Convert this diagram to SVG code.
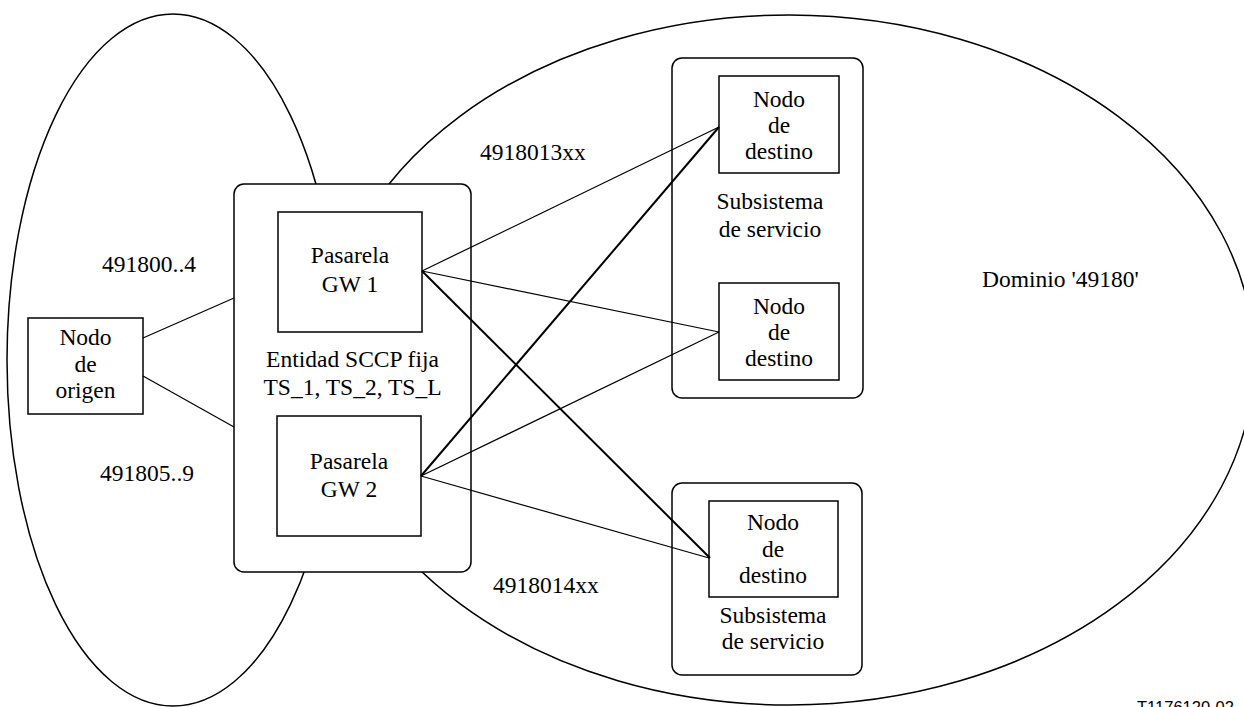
<svg xmlns="http://www.w3.org/2000/svg" width="1244" height="707" viewBox="0 0 1244 707">
<style>
.t{font-family:'Liberation Serif','Times New Roman',Tinos,'DejaVu Serif','Noto Serif',serif;font-size:23.5px;fill:#000;text-anchor:middle}
.ts{font-family:'Liberation Serif','Times New Roman',Tinos,'DejaVu Serif','Noto Serif',serif;font-size:23.5px;fill:#000}
.sh{fill:none;stroke:#000;stroke-width:1.5}
.box{fill:#fff;stroke:#000;stroke-width:1.5}
.thin{stroke:#000;stroke-width:1.2;fill:none}
.thick{stroke:#000;stroke-width:2;fill:none}
</style>
<rect width="1244" height="707" fill="#fff"/>
<g id="domains">
<ellipse id="left-domain" class="sh" cx="173" cy="360" rx="166" ry="346"/>
<ellipse id="right-domain" class="sh" cx="789" cy="360" rx="465" ry="345"/>
</g>
<g id="entity">
<rect class="box" x="234" y="184" width="237" height="388" rx="10"/>
<text class="t" x="352.5" y="367">Entidad SCCP fija</text>
<text class="t" x="352.5" y="395">TS_1, TS_2, TS_L</text>
</g>
<g id="gw1">
<rect class="box" x="278" y="212" width="144" height="120"/>
<text class="t" x="350" y="263">Pasarela</text>
<text class="t" x="350" y="292">GW 1</text>
</g>
<g id="gw2">
<rect class="box" x="277" y="416" width="144" height="120"/>
<text class="t" x="349" y="469">Pasarela</text>
<text class="t" x="349" y="497">GW 2</text>
</g>
<g id="origin">
<rect class="box" x="28" y="318" width="115" height="96"/>
<text class="t" x="85.5" y="345">Nodo</text>
<text class="t" x="85.5" y="372">de</text>
<text class="t" x="85.5" y="398">origen</text>
</g>
<g id="subsystem1">
<rect class="sh" x="672" y="58" width="191" height="340" rx="10"/>
<text class="t" x="770" y="209">Subsistema</text>
<text class="t" x="770" y="237">de servicio</text>
</g>
<g id="subsystem2">
<rect class="sh" x="672" y="483" width="190" height="192" rx="10"/>
<text class="t" x="773" y="623">Subsistema</text>
<text class="t" x="773" y="649">de servicio</text>
</g>
<g id="dest1">
<rect class="box" x="719" y="76" width="120" height="97"/>
<text class="t" x="779" y="107">Nodo</text>
<text class="t" x="779" y="133">de</text>
<text class="t" x="779" y="159">destino</text>
</g>
<g id="dest2">
<rect class="box" x="719" y="283" width="120" height="97"/>
<text class="t" x="779" y="314">Nodo</text>
<text class="t" x="779" y="340">de</text>
<text class="t" x="779" y="366">destino</text>
</g>
<g id="dest3">
<rect class="box" x="709" y="501" width="129" height="96"/>
<text class="t" x="773" y="530">Nodo</text>
<text class="t" x="773" y="557">de</text>
<text class="t" x="773" y="583">destino</text>
</g>
<g id="connectors">
<line class="thin" x1="143" y1="338" x2="234" y2="298"/>
<line class="thin" x1="143" y1="376" x2="234" y2="427"/>
<line class="thin" x1="422" y1="271" x2="719" y2="127"/>
<line class="thin" x1="422" y1="271" x2="719" y2="332"/>
<line class="thick" x1="422" y1="271" x2="710" y2="558"/>
<line class="thick" x1="421" y1="476" x2="719" y2="127"/>
<line class="thin" x1="421" y1="476" x2="719" y2="332"/>
<line class="thin" x1="421" y1="476" x2="709" y2="558"/>
</g>
<g id="labels">
<text class="ts" x="102" y="272">491800..4</text>
<text class="ts" x="100" y="481">491805..9</text>
<text class="ts" x="480" y="160">4918013xx</text>
<text class="ts" x="493" y="593">4918014xx</text>
<text class="ts" x="982" y="287">Dominio '49180'</text>
<text x="1137" y="713" font-family="Liberation Sans, Arial, sans-serif" font-size="16.5">T1176120-02</text>
</g>
</svg>
